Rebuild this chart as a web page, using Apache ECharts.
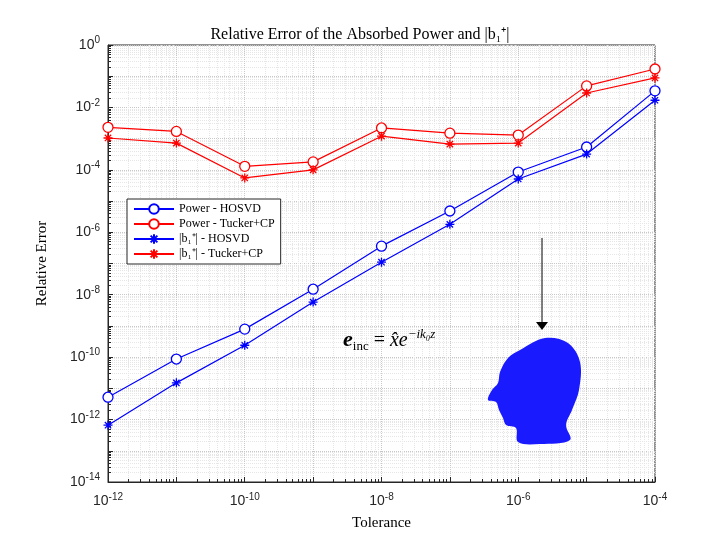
<!DOCTYPE html>
<html><head><meta charset="utf-8">
<script src="https://cdn.jsdelivr.net/npm/echarts@6/dist/echarts.min.js"></script>
<style>html,body{margin:0;padding:0;background:#fff}#c{width:720px;height:540px}</style>
</head><body><div id="c"></div>
<script>
const tolerances = [1e-12,1e-11,1e-10,1e-9,1e-8,1e-7,1e-6,1e-5,1e-4];
const powerHOSVD = [5.2e-12,8.7e-11,7.9e-10,1.5e-8,3.6e-7,4.8e-6,8.5e-5,5.4e-4,3.4e-2];
const powerTucker = [2.3e-3,1.7e-3,1.3e-4,1.8e-4,2.2e-3,1.5e-3,1.3e-3,4.9e-2,0.17];
const b1HOSVD = [6.6e-13,1.5e-11,2.4e-10,5.8e-9,1.1e-7,1.8e-6,5.1e-5,3.2e-4,1.7e-2];
const b1Tucker = [1.05e-3,7.2e-4,5.5e-5,1e-4,1.2e-3,6.7e-4,7.2e-4,2.9e-2,8.8e-2];
const seriesNames = ['Power - HOSVD','Power - Tucker+CP','|b\u2081\u207A| - HOSVD','|b\u2081\u207A| - Tucker+CP'];

const chart = echarts.init(document.getElementById('c'));
const sup = {'-':'\u207B','0':'\u2070','1':'\u00B9','2':'\u00B2','3':'\u00B3','4':'\u2074','5':'\u2075','6':'\u2076','7':'\u2077','8':'\u2078','9':'\u2079'};
function fmt(v, showOdd){
  const e = Math.round(Math.log10(v));
  if(!showOdd && e%2!==0) return '';
  return '{b|10}{s|' + String(e) + '}';
}
const rich = {b:{fontSize:14,fontFamily:'Liberation Sans',color:'#262626'},s:{fontSize:10,verticalAlign:'top',padding:[0,0,9,0],fontFamily:'Liberation Sans',color:'#262626'}};
function mk(name, data, color, sym, size){
  return {name, type:'line', data: tolerances.map((t,i)=>[t,data[i]]), symbol:sym, symbolSize:size,
    lineStyle:{color, width:1.2}, itemStyle:{color: sym==='circle'?'#fff':color, borderColor:color, borderWidth:1.3}, z:5};
}
const star = 'path://M0,-10L0,10M-10,0L10,0M-7,-7L7,7M-7,7L7,-7';
const grid = {left:108,right:65,top:45,bottom:58};
const serif = 'Liberation Serif';
chart.setOption({
  animation:false,
  title:{text:'Relative Error of the Absorbed Power and |b\u2081\u207A|', left:'center', top:22, textStyle:{fontFamily:serif,fontWeight:'normal',fontSize:16,color:'#000'}},
  grid:Object.assign({show:true,borderColor:'#262626',borderWidth:1},grid),
  legend:{orient:'vertical', left:127, top:199, backgroundColor:'#fff', borderColor:'#262626', borderWidth:1, padding:[4,6], itemGap:3, itemWidth:40, itemHeight:12,
    textStyle:{fontFamily:serif,fontSize:12,color:'#000'}, data:seriesNames},
  xAxis:{type:'log', min:1e-12, max:1e-4, logBase:10, interval:1, name:'Tolerance', nameLocation:'middle', nameGap:34,
    nameTextStyle:{fontFamily:serif,fontSize:15,color:'#000'},
    axisLine:{lineStyle:{color:'#262626'}}, axisTick:{inside:true,lineStyle:{color:'#262626'}},
    minorTick:{show:true,splitNumber:9}, minorSplitLine:{show:true,lineStyle:{color:'#e6e6e6',type:'dotted'}},
    splitLine:{show:true,lineStyle:{color:'#c8c8c8',type:'dotted'}},
    axisLabel:{formatter:v=>fmt(v,false),rich,margin:10}},
  yAxis:{type:'log', min:1e-14, max:1, logBase:10, interval:1, name:'Relative Error', nameLocation:'middle', nameGap:58,
    nameTextStyle:{fontFamily:serif,fontSize:15,color:'#000'},
    axisLine:{lineStyle:{color:'#262626'}}, axisTick:{inside:true,lineStyle:{color:'#262626'}},
    minorTick:{show:true,splitNumber:9}, minorSplitLine:{show:true,lineStyle:{color:'#e6e6e6',type:'dotted'}},
    splitLine:{show:true,lineStyle:{color:'#c8c8c8',type:'dotted'}},
    axisLabel:{formatter:v=>fmt(v,false),rich,margin:8}},
  series:[
    mk(seriesNames[0], powerHOSVD, '#0000ff','circle',10),
    mk(seriesNames[1], powerTucker, '#ff0000','circle',10),
    mk(seriesNames[2], b1HOSVD, '#0000ff',star,9),
    mk(seriesNames[3], b1Tucker, '#ff0000',star,9)
  ],
  graphic:[
    {type:'line', shape:{x1:542,y1:238,x2:542,y2:322}, style:{stroke:'#000',lineWidth:1}, z:10},
    {type:'polygon', shape:{points:[[536,322],[548,322],[542,330]]}, style:{fill:'#000'}, z:10},
    {type:'text', left:343, top:328, z:10, style:{text:'{e|e}{sub|inc}{t| = }{x|x\u0302e}{sp|\u2212ik\u2080z}',
      rich:{e:{fontFamily:serif,fontSize:22,fontWeight:'bold',fontStyle:'italic'},sub:{fontFamily:serif,fontSize:13,verticalAlign:'bottom',padding:[8,0,0,0]},
        t:{fontFamily:serif,fontSize:20},x:{fontFamily:serif,fontSize:20,fontStyle:'italic'},sp:{fontFamily:serif,fontSize:13,fontStyle:'italic',verticalAlign:'top',padding:[0,0,12,0]}}}},
    {type:'polygon', z:9, shape:{smooth:0.35, points:[[520,350],[545,338],[568,343],[580,362],[579,390],[572,410],[566,425],[570,440],[540,444],[518,442],[516,428],[506,425],[503,418],[499,410],[496,402],[488,400],[492,390],[498,383],[500,372],[508,358]]},
      style:{fill:'#1a1aff'}}
  ]
});
</script></body></html>
